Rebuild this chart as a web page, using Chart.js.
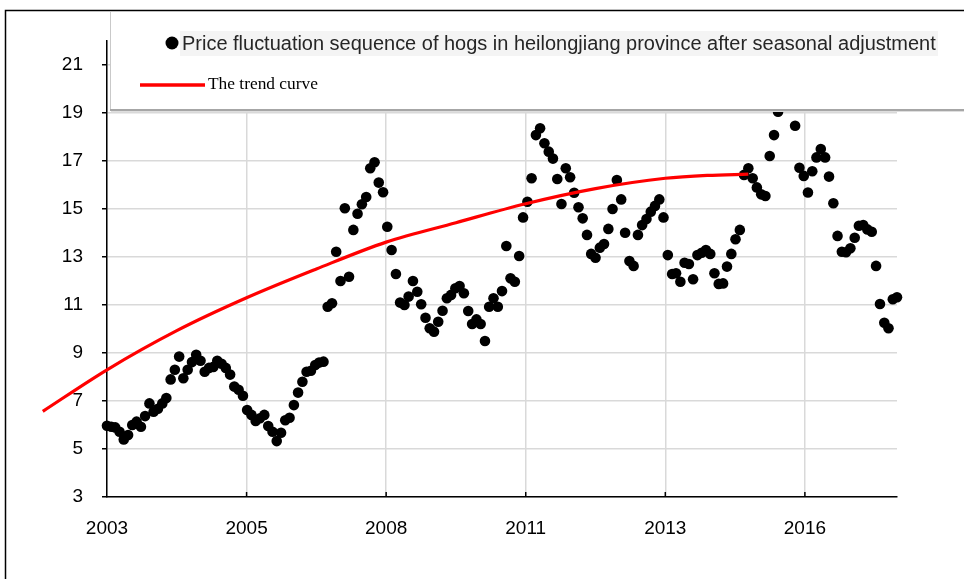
<!DOCTYPE html>
<html>
<head>
<meta charset="utf-8">
<title>Hog prices in Heilongjiang</title>
<script src="https://cdn.jsdelivr.net/npm/chart.js@4.4.1/dist/chart.umd.min.js"></script>
<style>
  html, body { margin: 0; padding: 0; background: #ffffff; }
  #wrap { width: 964px; height: 579px; position: relative; }
</style>
</head>
<body>
<div id="wrap"><canvas id="chart" width="964" height="579"></canvas></div>
<script>
// Monthly series, first value is January 2003
const startYear = 2003;
const hogPrice = [
  5.97, 5.93, 5.90, 5.72, 5.40, 5.58, 6.00, 6.14, 5.93, 6.37,
  6.90, 6.55, 6.68, 6.90, 7.12, 7.90, 8.30, 8.85, 7.95, 8.30,
  8.62, 8.93, 8.68, 8.22, 8.38, 8.42, 8.68, 8.55, 8.38, 8.10,
  7.60, 7.47, 7.22, 6.62, 6.42, 6.17, 6.28, 6.42, 5.96, 5.72,
  5.33, 5.68, 6.20, 6.30, 6.83, 7.35, 7.80, 8.22, 8.26, 8.50,
  8.60, 8.64, 10.93, 11.07, 13.22, 12.00, 15.03, 12.18, 14.13, 14.80,
  15.20, 15.50, 16.70, 16.95, 16.10, 15.70, 14.26, 13.29, 12.29, 11.10,
  11.00, 11.35, 12.00, 11.55, 11.03, 10.47, 10.03, 9.89, 10.30, 10.76,
  11.28, 11.42, 11.70, 11.79, 11.49, 10.75, 10.21, 10.40, 10.21, 9.50,
  10.93, 11.28, 10.93, 11.58, 13.46, 12.11, 11.97, 13.04, 14.65, 15.30,
  16.28, 18.08, 18.36, 17.74, 17.39, 17.10, 16.25, 15.21, 16.70, 16.32,
  15.68, 15.07, 14.61, 13.92, 13.13, 12.97, 13.39, 13.54, 14.17, 15.00,
  16.21, 15.40, 14.01, 12.83, 12.63, 13.92, 14.33, 14.58, 14.89, 15.13,
  15.40, 14.65, 13.08, 12.29, 12.32, 11.97, 12.76, 12.71, 12.07, 13.08,
  13.18, 13.29, 13.13, 12.32, 11.88, 11.90, 12.60, 13.13, 13.74, 14.13,
  16.42, 16.70, 16.28, 15.90, 15.61, 15.54, 17.21, 18.08, 19.05, 19.70,
  20.10, 19.80, 18.47, 16.72, 16.38, 15.69, 16.57, 17.15, 17.50, 17.15,
  16.35, 15.24, 13.88, 13.22, 13.20, 13.36, 13.80, 14.30, 14.33, 14.15,
  14.05, 12.63, 11.04, 10.26, 10.03, 11.24, 11.32
];

// Trend curve, sampled in days counted from 1 January 2003
const trendDays   = [-460, 0, 500, 1000, 1500, 2000, 2500, 3000, 3500, 4000, 4300, 4595];
const trendValues = [6.57, 8.30, 9.93, 11.30, 12.50, 13.62, 14.43, 15.22, 15.85, 16.28, 16.40, 16.45];

// Axis ticks: the date axis steps by 1000 days and shows the year only
const xTickDays   = [0, 1000, 2000, 3000, 4000, 5000];
const xTickLabels = ['2003', '2005', '2008', '2011', '2013', '2016'];
const yTickValues = [3, 5, 7, 9, 11, 13, 15, 17, 19, 21];

const legendLabels = [
  'Price fluctuation sequence of hogs in heilongjiang province after seasonal adjustment',
  'The trend curve'
];

const DAY_MS = 86400000;
const origin = Date.UTC(startYear, 0, 1);
const monthDay = i => (Date.UTC(startYear, i, 1) - origin) / DAY_MS;

const pricePoints = hogPrice.map((v, i) => ({ x: monthDay(i), y: v }));
const trendPoints = trendDays.map((d, i) => ({ x: d, y: trendValues[i] }));
const lastDay = monthDay(hogPrice.length - 1);

// Narrow sans for the axis numbers when it is installed, regular sans otherwise
function pickAxisFont() {
  const c = document.createElement('canvas').getContext('2d');
  c.font = '22px "Liberation Sans Narrow", monospace';
  const a = c.measureText('2003 21').width;
  c.font = '22px monospace';
  const b = c.measureText('2003 21').width;
  if (Math.abs(a - b) > 0.5) {
    return { family: '"Liberation Sans Narrow", "Liberation Sans", Arial, sans-serif', size: 21.5 };
  }
  return { family: '"Liberation Sans", Arial, sans-serif', size: 19 };
}
const axisFont = pickAxisFont();

function fitFont(ctx, text, family, target, base) {
  ctx.font = base + 'px ' + family;
  const w = ctx.measureText(text).width;
  return base * target / w;
}

// Inward x tick marks, outer frame and the legend panel drawn over the plot
const framePlugin = {
  id: 'frameAndLegend',
  afterDraw(chart) {
    const ctx = chart.ctx;
    const xs = chart.scales.x;
    const area = chart.chartArea;
    ctx.save();

    ctx.strokeStyle = '#000';
    ctx.lineWidth = 1.5;
    xs.ticks.forEach((t, i) => {
      if (i === 0) return;
      const px = xs.getPixelForValue(t.value);
      ctx.beginPath();
      ctx.moveTo(px, area.bottom);
      ctx.lineTo(px, area.bottom - 5);
      ctx.stroke();
    });

    // outer frame (right and bottom sides fall off the canvas)
    ctx.strokeStyle = '#000';
    ctx.lineWidth = 1.5;
    ctx.strokeRect(5.5, 10.5, 1200, 1200);

    // legend panel
    const bx = 110, by = 12, bw = 900, bh = 97;
    ctx.fillStyle = '#ffffff';
    ctx.fillRect(bx, by, bw, bh);
    ctx.strokeStyle = '#c9c9c9';
    ctx.lineWidth = 1;
    ctx.beginPath();
    ctx.moveTo(bx + 0.5, by);
    ctx.lineTo(bx + 0.5, by + bh);
    ctx.stroke();
    ctx.fillStyle = '#a6a6a6';
    ctx.fillRect(bx, by + bh, bw, 2);
    ctx.fillStyle = '#dedede';
    ctx.fillRect(bx + 1, by + bh + 2, bw, 1);

    // entry 1: black dot + label
    const sans = '"Liberation Sans", Arial, sans-serif';
    const s1 = fitFont(ctx, legendLabels[0], sans, 754, 17);
    ctx.fillStyle = '#f4f4f4';
    ctx.fillRect(180, 31, 758, 25);
    ctx.fillStyle = '#000';
    ctx.beginPath();
    ctx.arc(172, 43, 6.5, 0, Math.PI * 2);
    ctx.fill();
    ctx.font = s1 + 'px ' + sans;
    ctx.fillStyle = '#262626';
    ctx.textBaseline = 'middle';
    ctx.textAlign = 'left';
    ctx.fillText(legendLabels[0], 182, 44);

    // entry 2: red line + label
    ctx.strokeStyle = '#ff0000';
    ctx.lineWidth = 3.5;
    ctx.beginPath();
    ctx.moveTo(140, 85);
    ctx.lineTo(205, 85);
    ctx.stroke();
    const serif = '"Liberation Serif", "Times New Roman", serif';
    const s2 = fitFont(ctx, legendLabels[1], serif, 110, 15);
    ctx.font = s2 + 'px ' + serif;
    ctx.fillStyle = '#000';
    ctx.fillText(legendLabels[1], 208, 84);

    ctx.restore();
  }
};

new Chart(document.getElementById('chart'), {
  data: {
    datasets: [
      {
        type: 'line',
        label: legendLabels[1],
        data: trendPoints,
        borderColor: '#ff0000',
        borderWidth: 3.2,
        pointRadius: 0,
        fill: false,
        cubicInterpolationMode: 'monotone',
        clip: false,
        order: 0
      },
      {
        type: 'scatter',
        label: legendLabels[0],
        data: pricePoints,
        backgroundColor: '#000000',
        borderWidth: 0,
        pointRadius: 5.3,
        clip: false,
        order: 1
      }
    ]
  },
  options: {
    responsive: false,
    animation: false,
    events: [],
    layout: { padding: { left: 0, top: 41, right: 67, bottom: 0 } },
    plugins: { legend: { display: false }, tooltip: { enabled: false } },
    scales: {
      x: {
        type: 'linear',
        min: 0,
        max: lastDay,
        afterBuildTicks: s => { s.ticks = xTickDays.map(v => ({ value: v })); },
        afterFit: s => { s.height = 82; },
        grid: { color: '#d9d9d9', lineWidth: 1.5, drawTicks: false },
        border: { color: '#000', width: 1.5 },
        ticks: {
          padding: 20,
          color: '#000',
          font: axisFont,
          maxRotation: 0,
          autoSkip: false,
          callback: (v, i) => xTickLabels[i]
        }
      },
      y: {
        type: 'linear',
        min: 3,
        max: 22,
        afterBuildTicks: s => { s.ticks = yTickValues.map(v => ({ value: v })); },
        afterFit: s => { s.width = 107; },
        grid: { color: '#d9d9d9', lineWidth: 1.5, tickLength: 5, tickColor: '#000' },
        border: { color: '#000', width: 1.5 },
        ticks: { padding: 19, color: '#000', font: axisFont }
      }
    }
  },
  plugins: [framePlugin]
});
</script>
</body>
</html>
